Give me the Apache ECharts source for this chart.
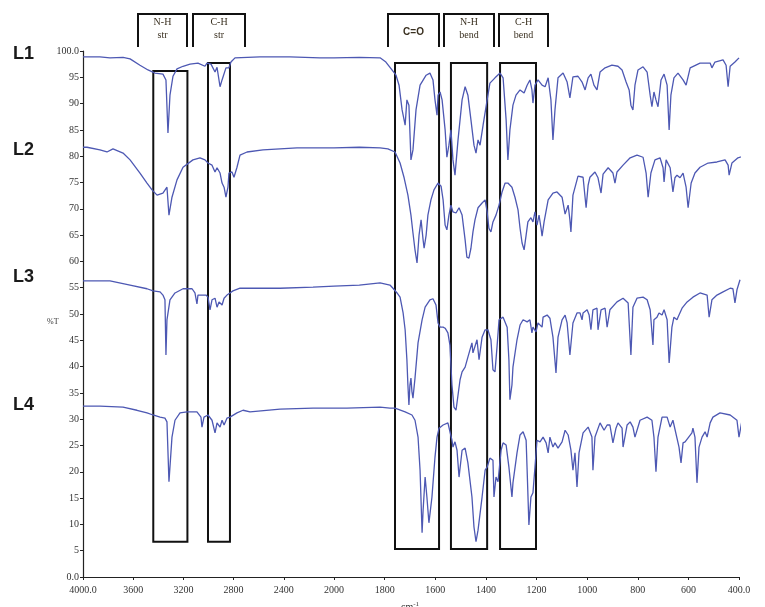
<!DOCTYPE html>
<html><head><meta charset="utf-8">
<script src="https://cdn.jsdelivr.net/npm/echarts@6.0.0/dist/echarts.min.js"></script>
<style>html,body{margin:0;padding:0;background:#fff}#c{width:765px;height:607px}</style>
</head><body><div id="c"></div>
<script>
// Wavenumber (cm-1) / %T pairs
const L1 = [[4000,98.9],[3865,98.9],[3785,98.7],[3681,98.8],[3625,98.5],[3546,97.3],[3482,96.4],[3426,95.8],[3363,95.6],[3339,94.5],[3323,84.4],[3307,91.6],[3283,95.2],[3251,96.6],[3203,97.1],[3147,97.5],[3084,97.7],[3028,97.1],[3012,97.7],[2980,97.5],[2948,96.0],[2932,96.9],[2908,93.2],[2892,94.5],[2861,96.8],[2837,96.8],[2821,97.9],[2789,98.7],[2590,98.9],[2351,98.9],[2112,98.7],[2000,98.7],
[1900,98.8],[1818,98.7],[1795,97.9],[1771,96.4],[1755,95.4],[1743,93.5],[1731,88.8],[1719,85.9],[1712,90.7],[1704,89.7],[1696,79.3],[1688,81.2],[1676,88.8],[1660,93.5],[1636,95.4],[1621,95.8],[1609,94.5],[1601,90.7],[1593,87.8],[1589,91.6],[1581,92.2],[1573,90.7],[1561,85.0],[1554,79.8],[1546,82.1],[1538,85.0],[1530,79.3],[1522,76.4],[1510,83.1],[1494,90.7],[1482,93.2],[1471,91.6],[1459,86.9],[1447,82.1],[1439,80.6],[1431,83.1],[1423,82.1],[1411,85.9],[1395,90.7],[1384,93.9],[1364,94.9],[1344,95.8],[1332,94.9],[1320,86.9],[1313,79.3],[1305,85.0],[1293,89.7],[1281,91.6],[1265,92.6],[1249,92.0],[1237,93.5],[1226,94.5],[1218,92.6],[1214,90.1],[1206,93.5],[1194,94.5],[1178,93.5],[1166,93.2],[1154,94.9],[1143,90.7],[1135,83.1],[1127,88.8],[1115,94.9],[1095,95.8],[1079,94.1],[1068,91.1],[1056,95.1],[1036,95.2],[1020,94.1],[1008,92.6],[996,94.9],[985,95.6],[973,93.5],[961,92.6],[949,96.0],[929,96.8],[902,97.3],[878,97.1],[862,96.4],[846,94.1],[834,92.6],[827,89.7],[819,88.8],[811,93.5],[799,96.4],[779,97.0],[763,96.0],[751,91.6],[744,89.4],[736,92.2],[728,90.7],[720,89.4],[708,94.5],[696,95.6],[684,93.5],[676,85.0],[669,91.6],[657,94.9],[641,95.8],[621,94.5],[609,93.5],[593,96.8],[554,97.7],[514,97.7],[507,96.8],[495,97.9],[463,98.3],[451,97.3],[443,93.2],[435,97.1],[416,97.9],[400,98.7]];

const L2 = [[4000,81.7],[3968,81.7],[3865,81.2],[3809,80.8],[3761,81.4],[3681,80.6],[3625,79.3],[3546,76.8],[3490,74.9],[3450,73.6],[3410,72.6],[3363,73.0],[3331,74.1],[3315,68.8],[3291,72.2],[3251,75.5],[3203,77.9],[3124,79.3],[3068,79.7],[3028,79.3],[3004,78.7],[2972,78.3],[2948,77.0],[2932,77.8],[2908,76.8],[2892,74.9],[2876,74.1],[2861,72.2],[2845,74.1],[2837,76.8],[2813,77.0],[2797,76.0],[2773,77.9],[2749,80.2],[2693,80.8],[2566,81.2],[2295,81.6],[2032,81.6],[2000,81.6],
[1900,81.7],[1818,81.6],[1787,81.4],[1759,80.8],[1739,78.7],[1723,75.9],[1708,72.6],[1696,68.8],[1688,65.4],[1680,62.2],[1672,59.7],[1664,65.0],[1656,67.9],[1648,64.1],[1644,62.5],[1636,65.0],[1629,68.8],[1617,71.7],[1605,73.6],[1589,74.9],[1577,74.3],[1569,71.7],[1561,66.9],[1554,66.0],[1546,68.8],[1538,70.7],[1530,69.4],[1518,69.2],[1506,70.2],[1494,68.8],[1482,64.1],[1475,60.8],[1467,60.6],[1459,62.5],[1451,65.6],[1443,67.9],[1431,70.2],[1415,71.1],[1403,71.7],[1395,69.4],[1388,66.3],[1380,65.6],[1372,67.5],[1360,68.8],[1348,70.7],[1336,73.2],[1324,74.9],[1313,74.9],[1297,74.1],[1285,72.2],[1273,69.8],[1265,66.3],[1257,63.5],[1249,62.2],[1241,65.0],[1234,67.5],[1222,68.3],[1214,67.5],[1206,69.4],[1198,66.9],[1190,68.8],[1182,66.3],[1178,64.8],[1170,67.5],[1154,71.7],[1135,73.0],[1119,73.2],[1099,72.2],[1087,69.0],[1075,70.7],[1068,67.9],[1064,65.6],[1056,72.6],[1036,76.2],[1016,76.0],[1004,70.2],[996,74.5],[989,76.0],[969,77.0],[957,75.9],[945,73.0],[937,76.6],[917,77.8],[898,76.8],[890,74.9],[882,77.0],[858,78.3],[830,79.7],[803,80.2],[779,79.8],[767,76.8],[759,72.2],[748,76.8],[732,79.3],[712,79.7],[700,77.8],[696,75.1],[688,79.3],[672,77.8],[661,73.2],[653,75.9],[645,76.4],[633,75.9],[621,76.8],[609,74.1],[601,70.2],[589,74.9],[574,76.8],[554,77.9],[522,78.7],[487,78.9],[455,79.3],[443,78.3],[439,76.4],[428,78.7],[404,79.7],[368,80.2],[345,80.6],[333,79.3],[325,80.6],[309,81.7]];

const L3 = [[4000,56.3],[3785,56.3],[3625,55.5],[3490,54.8],[3442,54.4],[3386,54.2],[3363,53.6],[3347,52.7],[3339,42.2],[3331,48.9],[3307,52.7],[3267,54.0],[3203,54.8],[3131,54.8],[3108,54.0],[3092,51.9],[3084,53.6],[3052,53.6],[3020,53.6],[3004,53.2],[2988,50.8],[2972,52.7],[2948,53.0],[2932,51.3],[2916,52.3],[2892,51.7],[2876,53.0],[2853,53.6],[2829,54.0],[2805,54.4],[2749,54.9],[2645,54.9],[2430,54.9],[2167,55.1],[2000,55.3],
[1900,55.5],[1818,55.9],[1779,55.5],[1767,54.9],[1751,54.0],[1739,53.2],[1727,50.2],[1719,47.0],[1712,41.3],[1708,36.5],[1704,32.7],[1700,36.5],[1696,37.8],[1692,35.2],[1688,34.0],[1680,37.8],[1668,44.5],[1652,48.9],[1640,51.3],[1621,52.7],[1609,52.9],[1597,51.7],[1589,48.3],[1581,47.5],[1569,47.5],[1561,47.3],[1550,46.4],[1542,44.1],[1534,36.5],[1526,32.3],[1518,31.7],[1510,34.6],[1502,37.5],[1494,39.0],[1482,39.9],[1471,41.8],[1455,44.5],[1451,42.6],[1435,45.1],[1427,41.3],[1415,45.6],[1403,47.0],[1392,47.0],[1380,45.1],[1372,39.4],[1364,39.0],[1356,43.7],[1348,48.9],[1332,49.4],[1316,47.5],[1309,41.3],[1305,33.7],[1297,36.5],[1293,39.9],[1277,45.1],[1265,47.9],[1253,48.9],[1237,48.5],[1226,48.9],[1218,46.4],[1214,47.5],[1202,46.6],[1194,48.3],[1178,47.5],[1174,49.4],[1158,49.8],[1147,49.2],[1135,45.6],[1123,38.8],[1115,45.6],[1099,48.9],[1087,49.8],[1079,48.3],[1068,42.2],[1056,48.3],[1040,50.2],[1028,50.2],[1020,48.9],[1016,50.2],[1000,50.8],[992,49.8],[985,47.0],[977,50.8],[961,51.1],[957,47.0],[945,50.8],[929,51.1],[921,47.5],[910,50.8],[882,52.3],[858,53.0],[838,52.1],[827,42.2],[819,51.3],[803,53.0],[779,53.2],[763,52.7],[751,50.8],[740,44.1],[736,48.9],[724,49.4],[716,50.2],[704,49.8],[696,50.8],[684,48.9],[676,40.7],[665,47.5],[657,49.4],[645,48.9],[641,49.4],[625,51.1],[605,52.3],[582,53.2],[554,54.0],[526,53.6],[518,49.4],[507,52.7],[487,53.6],[463,54.2],[435,54.9],[424,54.8],[416,52.1],[408,54.6],[396,56.5]];

const L4 = [[4000,32.5],[3865,32.5],[3681,32.3],[3570,31.7],[3490,31.2],[3442,30.8],[3386,30.4],[3347,30.2],[3331,29.5],[3315,18.1],[3291,26.6],[3267,29.8],[3227,31.2],[3171,31.4],[3092,31.4],[3060,30.4],[3052,28.5],[3036,30.4],[3004,30.8],[2972,29.8],[2948,27.4],[2932,29.3],[2908,28.5],[2892,29.8],[2876,28.9],[2853,30.2],[2829,30.4],[2773,31.2],[2725,31.7],[2669,31.4],[2430,31.9],[2167,32.1],[2000,32.1],
[1949,32.1],[1818,32.3],[1779,32.1],[1759,32.1],[1719,31.4],[1692,30.8],[1680,29.8],[1668,26.6],[1660,20.3],[1652,8.4],[1648,12.7],[1640,19.0],[1633,15.2],[1625,10.3],[1613,15.2],[1601,22.8],[1593,26.6],[1585,28.3],[1569,28.9],[1550,29.3],[1534,26.0],[1530,24.7],[1522,25.7],[1514,24.1],[1506,19.0],[1494,24.1],[1482,24.5],[1471,21.7],[1455,15.2],[1447,9.5],[1439,6.7],[1431,8.9],[1415,15.2],[1403,20.3],[1395,20.9],[1384,22.6],[1372,22.2],[1368,15.2],[1360,19.0],[1352,18.1],[1340,24.1],[1332,25.5],[1320,25.1],[1309,20.9],[1297,15.2],[1293,17.9],[1277,23.6],[1265,27.0],[1253,27.6],[1241,26.0],[1237,20.3],[1230,9.9],[1222,15.2],[1214,16.0],[1206,20.9],[1198,26.0],[1186,25.7],[1174,26.6],[1162,25.5],[1154,23.6],[1147,26.6],[1135,24.7],[1127,25.5],[1115,24.5],[1099,25.7],[1087,27.9],[1075,27.0],[1064,24.1],[1056,20.3],[1048,23.6],[1040,17.1],[1032,23.6],[1016,27.4],[996,28.5],[981,26.6],[977,20.3],[969,26.6],[949,29.3],[933,27.9],[921,28.9],[910,28.9],[898,25.5],[886,28.3],[878,29.3],[862,28.3],[858,24.7],[842,28.9],[830,29.5],[819,28.5],[811,26.6],[791,29.8],[763,30.4],[744,29.8],[736,26.6],[728,20.0],[720,26.6],[704,30.4],[684,30.4],[672,28.5],[661,29.8],[637,24.7],[629,21.7],[621,25.5],[613,25.7],[586,27.4],[582,28.3],[574,26.6],[566,17.9],[558,24.7],[546,26.6],[534,27.6],[526,26.6],[514,29.3],[503,30.4],[475,31.2],[435,30.8],[408,29.8],[400,26.6],[388,29.8],[368,30.4],[345,31.4],[317,31.7],[305,30.4],[297,29.8]];

const traceNames = ['L1','L2','L3','L4'];
// Boxes: [wn from, wn to, %T bottom, %T top]
const boxesHigh = [[3440,3168,6.7,96.2],[3004,2829,6.7,97.7]];
const boxesLow = [[1759,1585,5.3,97.7],[1538,1395,5.3,97.7],[1344,1202,5.3,97.7]];
const headerLabels = ['N-H\nstr','C-H\nstr','C=O','N-H\nbend','C-H\nbend'];
const yTicks = {min:0, max:100, interval:5};

const chart = echarts.init(document.getElementById('c'), null, {renderer:'canvas'});
const lineColor = '#4d58b3';
const spectra = [L1, L2, L3, L4];
const series = [];
spectra.forEach((s, i) => {
  series.push({name: traceNames[i], type:'line', xAxisIndex:0, yAxisIndex:0, data: s.filter(p => p[0] >= 2000),
    showSymbol:false, clip:false, silent:true, lineStyle:{color:lineColor, width:1.3}});
  series.push({name: traceNames[i], type:'line', xAxisIndex:1, yAxisIndex:1, data: s.filter(p => p[0] <= 2000),
    showSymbol:false, clip:false, silent:true, lineStyle:{color:lineColor, width:1.3}});
});
const boxStyle = {color:'rgba(0,0,0,0)', borderColor:'#111', borderWidth:2};
series.push({type:'line', xAxisIndex:0, yAxisIndex:0, data:[], z:5, silent:true,
  markArea:{silent:true, itemStyle:boxStyle, data: boxesHigh.map(b => [{xAxis:b[0], yAxis:b[2]},{xAxis:b[1], yAxis:b[3]}])}});
series.push({type:'line', xAxisIndex:1, yAxisIndex:1, data:[], z:5, silent:true,
  markArea:{silent:true, itemStyle:boxStyle, data: boxesLow.map(b => [{xAxis:b[0], yAxis:b[2]},{xAxis:b[1], yAxis:b[3]}])}});

const labelFont = {fontFamily:'"Liberation Serif", serif', fontSize:10, color:'#333'};
const axisLine = {show:true, lineStyle:{color:'#222', width:1.2}};
const headerBoxes = [[138,187],[193,245],[388,439],[444,494],[499,548]];
const graphics = [];
headerBoxes.forEach((hb, i) => {
  graphics.push({type:'polyline', shape:{points:[[hb[0],47],[hb[0],14],[hb[1],14],[hb[1],47]]}, style:{stroke:'#111', lineWidth:2, fill:null}});
  const two = headerLabels[i].indexOf('\n') >= 0;
  graphics.push({type:'text', x:(hb[0]+hb[1])/2, y: two ? 16 : 26, style:{text:headerLabels[i], textAlign:'center',
    font: two ? '10px "Liberation Serif"' : 'bold 10px "Liberation Sans"', lineHeight:13, fill:'#3a3020'}});
});
const sideLabelY = [54, 150, 277, 405];
traceNames.forEach((n, i) => {
  graphics.push({type:'text', x:13, y:sideLabelY[i], style:{text:n, font:'bold 18px "Liberation Sans"', fill:'#1a1a1a', textVerticalAlign:'middle'}});
});
graphics.push({type:'text', x:47, y:318, style:{text:'%T', font:'8px "Liberation Serif"', fill:'#333'}});
graphics.push({type:'text', x:401, y:601, style:{text:'{a|cm}{b|-1}', fill:'#333',
  rich:{a:{font:'10px "Liberation Serif"', fill:'#333'}, b:{font:'7px "Liberation Serif"', fill:'#333', verticalAlign:'top', padding:[0,0,6,0]}}}});

chart.setOption({
  animation:false,
  backgroundColor:'#fff',
  grid:[{left:83, top:51, width:251, height:526}, {left:334, top:51, width:405, height:526}],
  xAxis:[
    {type:'value', gridIndex:0, min:2000, max:4000, interval:400, inverse:true, axisLine,
      axisTick:{show:true, length:3, lineStyle:{color:'#222'}}, splitLine:{show:false},
      axisLabel:{...labelFont, margin:8, showMinLabel:true, showMaxLabel:true, formatter:v => v === 4000 ? '4000.0' : String(v)}},
    {type:'value', gridIndex:1, min:400, max:2000, interval:200, inverse:true, axisLine,
      axisTick:{show:true, length:3, lineStyle:{color:'#222'}}, splitLine:{show:false},
      axisLabel:{...labelFont, margin:8, showMinLabel:true, showMaxLabel:true, formatter:v => v === 400 ? '400.0' : (v === 2000 ? '' : String(v))}}
  ],
  yAxis:[
    {type:'value', gridIndex:0, min:yTicks.min, max:yTicks.max, interval:yTicks.interval, axisLine,
      axisTick:{show:true, length:3, lineStyle:{color:'#222'}}, splitLine:{show:false},
      axisLabel:{...labelFont, margin:4, formatter:v => v === 100 ? '100.0' : (v === 0 ? '0.0' : String(v))}},
    {type:'value', gridIndex:1, min:yTicks.min, max:yTicks.max, interval:yTicks.interval, show:false, splitLine:{show:false}}
  ],
  series,
  graphic: graphics
});
</script></body></html>
